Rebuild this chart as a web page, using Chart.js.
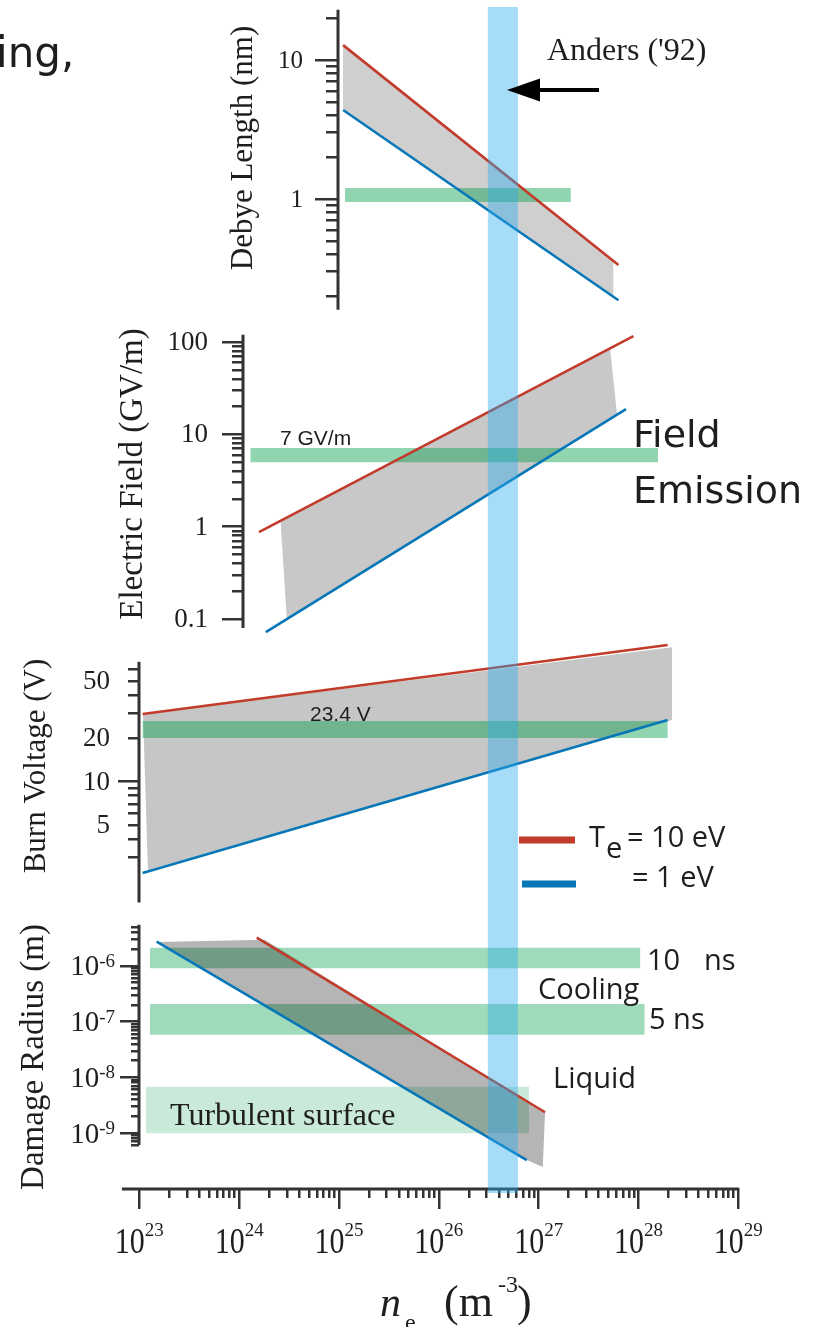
<!DOCTYPE html>
<html>
<head>
<meta charset="utf-8">
<title>Plasma parameters vs electron density</title>
<script src="https://cdn.jsdelivr.net/npm/chart.js@4.4.1/dist/chart.umd.min.js"></script>
<style>
  html, body { margin: 0; padding: 0; background: #fff; }
  #figure { position: relative; width: 818px; height: 1327px; overflow: hidden; }
  #figure canvas { position: absolute; left: 0; top: 0; }
</style>
</head>
<body>
<div id="figure">
  <canvas id="debye" width="818" height="1327"></canvas>
  <canvas id="field" width="818" height="1327"></canvas>
  <canvas id="burn" width="818" height="1327"></canvas>
  <canvas id="damage" width="818" height="1327"></canvas>
</div>
<script>
// ---- values (x = n_e in m^-3) ----
const neMajor = [1e23, 1e24, 1e25, 1e26, 1e27, 1e28, 1e29];
const neExponents = ['23', '24', '25', '26', '27', '28', '29'];
const andersRange = [3.1e26, 6.2e26];

// Debye length (nm)
const debyeTe10 = [[1.1e25, 12.8], [6.3e27, 0.335]];
const debyeTe1 = [[1.1e25, 4.37], [6.3e27, 0.187]];
const debyeShade = [[1.1e25, 12.8], [5.6e27, 0.36], [5.6e27, 0.2], [1.1e25, 4.4]];
const debyeBand = { x: [1.15e25, 2.1e27], y: [0.95, 1.2] };
const debyeMajor = [1, 10];
const debyeLabelValues = [1, 10];
const debyeLabels = ['1', '10'];

// Electric field (GV/m)
const fieldTe10 = [[1.58e24, 0.875], [8.9e27, 116]];
const fieldTe1 = [[1.85e24, 0.072], [7.5e27, 18.8]];
const fieldShade = [[2.6e24, 1.15], [5.2e27, 85], [6.1e27, 16.3], [3.0e24, 0.1]];
const fieldBand = { x: [1.3e24, 1.57e28], y: [5.0, 7.1] };
const fieldMajor = [0.1, 1, 10, 100];
const fieldLabelValues = [0.1, 1, 10, 100];
const fieldLabels = ['0.1', '1', '10', '100'];

// Burn voltage (V)
const burnTe10 = [[1.08e23, 29.5], [1.96e28, 89]];
const burnTe1 = [[1.08e23, 2.32], [1.96e28, 26.8]];
const burnShade = [[1.09e23, 29.5], [2.17e28, 86], [2.17e28, 26.8], [1.22e23, 2.44]];
const burnBand = { x: [1.08e23, 1.96e28], y: [20.1, 26.4] };
const burnMinor = [3, 4, 5, 6, 7, 8, 9, 20, 30, 40, 50, 60];
const burnMajor = [10];
const burnLabelValues = [5, 10, 20, 50];
const burnLabels = ['5', '10', '20', '50'];

// Damage radius (m)
const damageTe10 = [[1.5e24, 3.22e-6], [1.16e27, 2.36e-9]];
const damageTe1 = [[1.49e23, 2.73e-6], [7.6e26, 3.27e-10]];
const damageShade = [[1.49e23, 2.7e-6], [1.8e24, 2.95e-6], [1.16e27, 2.36e-9], [1.1e27, 2.45e-10], [7.6e26, 3.27e-10]];
const cooling10ns = { x: [1.28e23, 1.04e28], y: [9.1e-7, 2.13e-6] };
const cooling5ns = { x: [1.28e23, 1.15e28], y: [5.8e-8, 2.08e-7] };
const turbulent = { x: [1.17e23, 8.0e26], y: [9.9e-10, 6.8e-9] };
const damageMajor = [1e-9, 1e-8, 1e-7, 1e-6];
const damageExponents = ['-9', '-8', '-7', '-6'];

// ---- styles ----
const W = 818, H = 1327;
const PLOT_LEFT = 139.3, PLOT_RIGHT = 738.3;
const INK = '#1e1e1e';
const AXIS = '#333';
const RED = '#c23b2b';
const BLUE = '#0877b8';
const GREEN = 'rgba(3,157,75,0.44)';
const GREEN_LIGHT = 'rgba(3,157,75,0.38)';
const GREEN_PALE = 'rgba(3,157,75,0.21)';
const BAND_BLUE = 'rgba(43,171,238,0.42)';
const SERIF = '"Liberation Serif", "Times New Roman", serif';
const SANS = '"Liberation Sans", Arial, sans-serif';
const MYRIAD = '"Open Sans", "Noto Sans", sans-serif';
const HAND = '"DejaVu Sans", sans-serif';

Chart.defaults.font.family = SERIF;
Chart.defaults.color = INK;

// 2..9 x 10^n minor ticks between lo and hi
function decadeTicks(lo, hi) {
  const out = [];
  for (let e = Math.floor(Math.log10(lo)); e <= Math.floor(Math.log10(hi)); e++) {
    for (let m = 2; m <= 9; m++) {
      const v = Number((m * Math.pow(10, e)).toPrecision(3));
      if (v >= lo * 0.999 && v <= hi * 1.001) out.push(v);
    }
  }
  return out;
}
const neMinor = decadeTicks(2e23, 9e28);

const pts = arr => arr.map(([x, y]) => ({ x, y }));
const box = b => [[b.x[0], b.y[0]], [b.x[1], b.y[0]], [b.x[1], b.y[1]], [b.x[0], b.y[1]]];

function line(data, color) {
  return { data: pts(data), xAxisID: 'x', yAxisID: 'y', borderColor: color, borderWidth: 2.6,
           pointRadius: 0, fill: false, tension: 0, clip: false };
}
function area(poly, color) {
  return { data: pts(poly), xAxisID: 'x', yAxisID: 'y', borderColor: 'rgba(0,0,0,0)', borderWidth: 0,
           backgroundColor: color, pointRadius: 0, fill: 'shape', tension: 0, clip: false };
}

// two log axes on the same spot: short minor ticks and long major ticks
function yAxes(p) {
  const base = {
    type: 'logarithmic', axis: 'y', min: p.min, max: p.max, position: { x: p.at },
    border: { display: false }, ticks: { display: false, autoSkip: false },
    afterFit: s => { s.paddingTop = 0; s.paddingBottom = 0; }
  };
  return {
    y: Object.assign({}, base, {
      grid: { drawOnChartArea: false, color: AXIS, lineWidth: 2.5, tickLength: p.minorLen },
      afterBuildTicks: s => { s.ticks = p.minor.map(v => ({ value: v })); }
    }),
    yMaj: Object.assign({}, base, {
      grid: { drawOnChartArea: false, color: AXIS, lineWidth: 2.5, tickLength: p.majorLen },
      afterBuildTicks: s => { s.ticks = p.major.map(v => ({ value: v })); }
    })
  };
}

function xAxes(p) {
  const base = { type: 'logarithmic', axis: 'x', min: neMajor[0], max: neMajor[neMajor.length - 1] };
  if (!p.xAxis) return { x: Object.assign({}, base, { display: false }) };
  const shown = Object.assign({}, base, { position: { y: p.min }, border: { display: false }, ticks: { display: false } });
  return {
    x: Object.assign({}, shown, {
      grid: { drawOnChartArea: false, color: AXIS, lineWidth: 2.5, tickLength: 9 },
      afterBuildTicks: s => { s.ticks = neMinor.map(v => ({ value: v })); }
    }),
    xMaj: Object.assign({}, shown, {
      grid: { drawOnChartArea: false, color: AXIS, lineWidth: 2.5, tickLength: 20 },
      afterBuildTicks: s => { s.ticks = neMajor.map(v => ({ value: v })); }
    })
  };
}

// axis lines only as long as in the original, plus the plain tick labels
function axisDecor(p) {
  return {
    id: 'axisDecor',
    afterDraw(chart) {
      const ctx = chart.ctx, xs = chart.scales.x, ys = chart.scales.y;
      ctx.save();
      ctx.strokeStyle = AXIS;
      ctx.lineWidth = 3;
      const ax = Math.round(xs.getPixelForValue(p.at));
      ctx.beginPath();
      ctx.moveTo(ax, ys.getPixelForValue(p.axis[1]));
      ctx.lineTo(ax, ys.getPixelForValue(p.axis[0]));
      ctx.stroke();
      if (p.xAxis) {
        const ay = Math.round(ys.getPixelForValue(p.min));
        ctx.beginPath();
        ctx.moveTo(xs.getPixelForValue(p.xAxis[0]), ay);
        ctx.lineTo(xs.getPixelForValue(p.xAxis[1]) + 1, ay);
        ctx.stroke();
      }
      if (p.labels) {
        ctx.fillStyle = INK;
        ctx.font = p.tickFont + 'px ' + SERIF;
        ctx.textAlign = 'right';
        ctx.textBaseline = 'middle';
        p.labelValues.forEach((v, i) => ctx.fillText(p.labels[i], ax - p.labelGap, ys.getPixelForValue(v) + 1));
      }
      ctx.restore();
    }
  };
}

function text(ctx, s, x, y, font, align) {
  ctx.font = font;
  ctx.textAlign = align || 'left';
  ctx.textBaseline = 'alphabetic';
  ctx.fillText(s, x, y);
}
function vtext(ctx, s, cx, cy, font) {
  ctx.save();
  ctx.translate(cx, cy);
  ctx.rotate(-Math.PI / 2);
  ctx.font = font;
  ctx.textAlign = 'center';
  ctx.textBaseline = 'middle';
  ctx.fillText(s, 0, 0);
  ctx.restore();
}
// "10" with a superscript exponent; stretch makes the "10" taller
function power(ctx, exp, x, y, size, supSize, rise, align, stretch) {
  ctx.textBaseline = 'alphabetic';
  ctx.textAlign = 'left';
  ctx.font = size + 'px ' + SERIF;
  const w1 = ctx.measureText('10').width;
  ctx.font = supSize + 'px ' + SERIF;
  const w2 = ctx.measureText(exp).width;
  const left = align === 'center' ? x - (w1 + w2) / 2 : x - w1 - w2;
  ctx.save();
  ctx.translate(left, y);
  ctx.scale(1, stretch || 1);
  ctx.font = size + 'px ' + SERIF;
  ctx.fillText('10', 0, 0);
  ctx.restore();
  ctx.font = supSize + 'px ' + SERIF;
  ctx.fillText(exp, left + w1, y - rise);
}

// annotations, titles, legend and the Anders band (drawn on the top canvas)
const annotations = {
  id: 'annotations',
  afterDraw(chart) {
    const ctx = chart.ctx, xs = chart.scales.x, yMaj = chart.scales.yMaj;
    ctx.save();
    ctx.fillStyle = INK;

    // axis titles
    vtext(ctx, 'Debye Length (nm)', 244, 148, '31px ' + SERIF);
    vtext(ctx, 'Electric Field (GV/m)', 133, 474, '33px ' + SERIF);
    vtext(ctx, 'Burn Voltage (V)', 37, 766, '31px ' + SERIF);
    vtext(ctx, 'Damage Radius (m)', 34, 1057, '33px ' + SERIF);

    // x tick labels and x title
    neMajor.forEach((v, i) => power(ctx, neExponents[i], xs.getPixelForValue(v), 1253, 30, 19, 17, 'center', 1.22));
    damageMajor.forEach((v, i) => {
      const py = yMaj.getPixelForValue(v);
      power(ctx, damageExponents[i], 115, py + 9.5, 29, 19, 8.5, 'right');
    });
    text(ctx, 'n', 380, 1316, 'italic 42px ' + SERIF);
    text(ctx, 'e', 405, 1330, '24px ' + SERIF);
    text(ctx, '(m', 444, 1316, '44px ' + SERIF);
    text(ctx, '-3', 498, 1292, '24px ' + SERIF);
    text(ctx, ')', 517, 1316, '44px ' + SERIF);

    // panel notes
    text(ctx, 'ing,', -4, 67, '42px ' + HAND);
    text(ctx, "Anders ('92)", 547, 60, '32px ' + SERIF);
    text(ctx, '7 GV/m', 280, 445, '21px ' + SANS);
    text(ctx, 'Field', 633, 447, '38px ' + HAND);
    text(ctx, 'Emission', 633, 503, '38px ' + HAND);
    text(ctx, '23.4 V', 310, 721, '21px ' + SANS);
    text(ctx, 'Turbulent surface', 170, 1125, '32px ' + SERIF);
    text(ctx, '10', 647, 970, '29px ' + MYRIAD);
    text(ctx, 'ns', 704, 970, '29px ' + MYRIAD);
    text(ctx, 'Cooling', 538, 999, '29px ' + MYRIAD);
    text(ctx, '5 ns', 649, 1029, '29px ' + MYRIAD);
    text(ctx, 'Liquid', 553, 1088, '29px ' + MYRIAD);

    // legend
    ctx.lineWidth = 7;
    ctx.strokeStyle = RED;
    ctx.beginPath(); ctx.moveTo(519, 840); ctx.lineTo(575, 840); ctx.stroke();
    ctx.strokeStyle = BLUE;
    ctx.beginPath(); ctx.moveTo(522, 884); ctx.lineTo(576, 884); ctx.stroke();
    text(ctx, 'T', 589, 847, '29px ' + MYRIAD);
    text(ctx, 'e', 606, 858, '29px ' + MYRIAD);
    text(ctx, '= 10 eV', 627, 847, '29px ' + MYRIAD);
    text(ctx, '= 1 eV', 632, 887, '29px ' + MYRIAD);

    // Anders density range across all panels
    const bx0 = xs.getPixelForValue(andersRange[0]);
    const bx1 = xs.getPixelForValue(andersRange[1]);
    ctx.fillStyle = BAND_BLUE;
    ctx.fillRect(bx0, 7, bx1 - bx0, 1186);

    // arrow
    ctx.fillStyle = '#000';
    ctx.fillRect(538, 88, 61, 4);
    ctx.beginPath();
    ctx.moveTo(507, 90); ctx.lineTo(540, 78.5); ctx.lineTo(540, 101.5); ctx.closePath();
    ctx.fill();
    ctx.restore();
  }
};

const panels = [
  {
    id: 'debye', top: 4.7, bottom: 317.7, min: 0.14, max: 25, at: 9.7e24, axis: [0.16, 23],
    minor: decadeTicks(0.2, 20), major: debyeMajor, labelValues: debyeLabelValues, labels: debyeLabels,
    minorLen: 12, majorLen: 23, labelGap: 35, tickFont: 25,
    datasets: [line(debyeTe10, RED), line(debyeTe1, BLUE), area(box(debyeBand), GREEN), area(debyeShade, '#cfcfcf')]
  },
  {
    id: 'field', top: 331.5, bottom: 636.3, min: 0.065, max: 130, at: 1.1e24, axis: [0.08, 120],
    minor: decadeTicks(0.2, 90), major: fieldMajor, labelValues: fieldLabelValues, labels: fieldLabels,
    minorLen: 11, majorLen: 21, labelGap: 35, tickFont: 27,
    datasets: [line(fieldTe10, RED), line(fieldTe1, BLUE), area(box(fieldBand), GREEN), area(fieldShade, '#c8c8c8')]
  },
  {
    id: 'burn', top: 637.7, bottom: 904.7, min: 1.4, max: 100, at: 1e23, axis: [1.45, 68],
    minor: burnMinor, major: burnMajor, labelValues: burnLabelValues, labels: burnLabels,
    minorLen: 11, majorLen: 21, labelGap: 29, tickFont: 27,
    datasets: [line(burnTe10, RED), line(burnTe1, BLUE), area(box(burnBand), GREEN), area(burnShade, '#c6c6c6')]
  },
  {
    id: 'damage', top: 910.3, bottom: 1188.7, min: 1e-10, max: 1e-5, at: 1e23, axis: [6.1e-10, 5.5e-6],
    xAxis: [6.7e22, 1e29],
    minor: decadeTicks(6e-10, 5e-6), major: damageMajor,
    minorLen: 8, majorLen: 19,
    datasets: [line(damageTe10, RED), line(damageTe1, BLUE), area(damageShade, 'rgba(0,0,0,0.29)'),
               area(box(cooling10ns), GREEN_LIGHT), area(box(cooling5ns), GREEN_LIGHT), area(box(turbulent), GREEN_PALE)]
  }
];

panels.forEach(p => {
  const plugins = [axisDecor(p)];
  if (p.xAxis) plugins.push(annotations);
  new Chart(document.getElementById(p.id), {
    type: 'line',
    data: { datasets: p.datasets },
    options: {
      responsive: false,
      maintainAspectRatio: false,
      animation: false,
      devicePixelRatio: 1,
      events: [],
      layout: { padding: { left: PLOT_LEFT, right: W - PLOT_RIGHT, top: p.top, bottom: H - p.bottom } },
      plugins: { legend: { display: false }, tooltip: { enabled: false } },
      scales: Object.assign(xAxes(p), yAxes(p))
    },
    plugins
  });
});
</script>
</body>
</html>
